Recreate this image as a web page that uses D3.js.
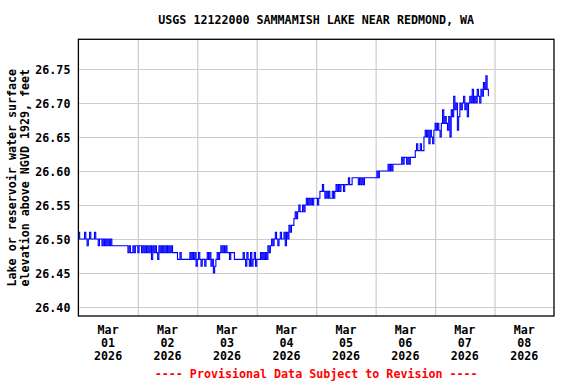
<!DOCTYPE html>
<html>
<head>
<meta charset="utf-8">
<script src="https://cdn.jsdelivr.net/npm/d3@7"></script>
<style>
  html, body { margin: 0; padding: 0; background: #ffffff; }
  svg text { font-family: "DejaVu Sans Mono", monospace; font-weight: bold; font-size: 11.66px; }
</style>
</head>
<body>
<svg id="chart" width="576" height="384"></svg>
<script>
// ---- DATA (30-minute readings, feet above NGVD 1929) ----
const title = "USGS 12122000 SAMMAMISH LAKE NEAR REDMOND, WA";
const yTitleLines = ["Lake or reservoir water surface", "elevation above NGVD 1929, feet"];
const footnote = "---- Provisional Data Subject to Revision ----";
const yTicks = [26.40, 26.45, 26.50, 26.55, 26.60, 26.65, 26.70, 26.75];
const xMonth = "Mar";
const xDays = ["01", "02", "03", "04", "05", "06", "07", "08"];
const xYear = "2026";

const mar01 = [26.51,26.50,26.50,26.50,26.50,26.51,26.50,26.49,26.50,26.51,
               26.50,26.50,26.50,26.51,26.50,26.50,26.49,26.50,26.50,26.49,
               26.50,26.49,26.50,26.49,26.50,26.49,26.50,26.49,26.49,26.49,
               26.49,26.49,26.49,26.49,26.49,26.49,26.49,26.49,26.49,26.49,
               26.48,26.49,26.48,26.48,26.49,26.48,26.49,26.49];
const mar02 = [26.48,26.49,26.49,26.48,26.49,26.48,26.49,26.48,26.49,26.48,
               26.49,26.47,26.49,26.48,26.49,26.48,26.47,26.49,26.48,26.49,
               26.48,26.49,26.48,26.49,26.48,26.49,26.48,26.49,26.48,26.48,
               26.48,26.48,26.47,26.47,26.48,26.47,26.47,26.47,26.47,26.47,
               26.47,26.47,26.48,26.47,26.48,26.47,26.48,26.46];
const mar03 = [26.47,26.48,26.47,26.46,26.47,26.47,26.46,26.47,26.48,26.47,
               26.48,26.46,26.47,26.45,26.46,26.47,26.48,26.47,26.48,26.49,
               26.48,26.49,26.48,26.49,26.48,26.48,26.47,26.48,26.48,26.48,
               26.47,26.47,26.47,26.47,26.47,26.47,26.47,26.48,26.47,26.46,
               26.48,26.47,26.46,26.48,26.46,26.47,26.48,26.46];
const mar04 = [26.47,26.47,26.47,26.48,26.47,26.48,26.47,26.48,26.47,26.49,
               26.48,26.49,26.50,26.49,26.50,26.51,26.50,26.49,26.50,26.51,
               26.50,26.50,26.51,26.49,26.51,26.50,26.52,26.51,26.52,26.52,
               26.53,26.54,26.53,26.54,26.55,26.54,26.54,26.55,26.54,26.55,
               26.56,26.55,26.56,26.55,26.56,26.55,26.56,26.56];
const mar05 = [26.56,26.55,26.56,26.57,26.57,26.58,26.57,26.56,26.57,26.56,
               26.57,26.56,26.56,26.57,26.56,26.57,26.58,26.57,26.58,26.57,
               26.58,26.58,26.57,26.58,26.58,26.58,26.59,26.58,26.58,26.59,
               26.59,26.59,26.59,26.59,26.58,26.59,26.58,26.59,26.58,26.59,
               26.59,26.59,26.59,26.59,26.59,26.59,26.59,26.59];
const mar06 = [26.59,26.60,26.59,26.60,26.60,26.60,26.60,26.60,26.60,26.60,
               26.61,26.60,26.61,26.60,26.61,26.61,26.61,26.61,26.61,26.61,
               26.61,26.62,26.61,26.62,26.62,26.61,26.62,26.61,26.62,26.62,
               26.62,26.62,26.63,26.64,26.63,26.63,26.64,26.63,26.63,26.65,
               26.66,26.65,26.66,26.64,26.66,26.65,26.64,26.66];
const mar07 = [26.67,26.66,26.67,26.66,26.65,26.67,26.69,26.67,26.68,26.67,
               26.66,26.68,26.65,26.69,26.68,26.71,26.69,26.70,26.66,26.68,
               26.70,26.69,26.70,26.71,26.69,26.70,26.68,26.70,26.71,26.70,
               26.72,26.70,26.71,26.70,26.72,26.71,26.70,26.72,26.71,26.73,
               26.72,26.74,26.72,26.71];
const days = [mar01, mar02, mar03, mar04, mar05, mar06, mar07];

// ---- BUILD SERIES ----
const series = [];
days.forEach((arr, d) => {
  arr.forEach((v, i) => {
    series.push({ t: new Date(Date.UTC(2026, 2, 1 + d, 0, 30 * i)), v: v });
  });
});

// ---- LAYOUT ----
const svg = d3.select("#chart");
const L = 78.4, R = 554, T = 39.3, B = 316;

const x = d3.scaleUtc()
  .domain([new Date(Date.UTC(2026, 2, 1)), new Date(Date.UTC(2026, 2, 9))])
  .range([L, R]);
const y = d3.scaleLinear()
  .domain([26.3868, 26.7937])
  .range([B, T]);

// grid
const dayBounds = d3.range(1, 8).map(k => new Date(Date.UTC(2026, 2, 1 + k)));
svg.append("g")
  .attr("transform", `translate(0,${B})`)
  .call(d3.axisBottom(x).tickValues(dayBounds).tickSize(-(B - T)).tickFormat(""))
  .call(g => g.select(".domain").remove())
  .call(g => g.selectAll("line").attr("stroke", "#cccccc").attr("stroke-width", 1.2));

svg.append("g")
  .attr("transform", `translate(${L},0)`)
  .call(d3.axisLeft(y).tickValues(yTicks).tickSize(-(R - L)).tickFormat(""))
  .call(g => g.select(".domain").remove())
  .call(g => g.selectAll("line").attr("stroke", "#cccccc").attr("stroke-width", 1.2));

// data line
const line = d3.line()
  .x(d => x(d.t))
  .y(d => y(d.v))
  .curve(d3.curveStepAfter);
svg.append("path")
  .datum(series)
  .attr("fill", "none")
  .attr("stroke", "#0000ff")
  .attr("stroke-width", 1.1)
  .attr("d", line);

// frame
svg.append("rect")
  .attr("x", L).attr("y", T)
  .attr("width", R - L).attr("height", B - T)
  .attr("fill", "none").attr("stroke", "#000").attr("stroke-width", 1.3);

// y tick labels
svg.append("g")
  .attr("transform", `translate(${L},0)`)
  .call(d3.axisLeft(y).tickValues(yTicks).tickSize(0).tickPadding(8).tickFormat(d3.format(".2f")))
  .call(g => g.select(".domain").remove())
  .call(g => g.selectAll("text")
      .attr("dy", "0.42em")
      .attr("fill", "#000")
      .style("font-family", "'DejaVu Sans Mono', monospace")
      .style("font-weight", "bold")
      .style("font-size", "11.66px"));

// x tick labels (centered at noon)
const noons = xDays.map((d, k) => new Date(Date.UTC(2026, 2, 1 + k, 12)));
const xl = svg.append("g");
noons.forEach((t, k) => {
  const tx = xl.append("text").attr("text-anchor", "middle").attr("fill", "#000");
  tx.append("tspan").attr("x", x(t)).attr("y", 334).text(xMonth);
  tx.append("tspan").attr("x", x(t)).attr("y", 347).text(xDays[k]);
  tx.append("tspan").attr("x", x(t)).attr("y", 360).text(xYear);
});

// title
svg.append("text")
  .attr("x", (L + R) / 2).attr("y", 24)
  .attr("text-anchor", "middle").attr("fill", "#000")
  .text(title);

// y axis title
const cy = (T + B) / 2;
yTitleLines.forEach((s, i) => {
  svg.append("text")
    .attr("transform", `translate(${16 + i * 12.5},${cy}) rotate(-90)`)
    .attr("text-anchor", "middle").attr("fill", "#000")
    .text(s);
});

// footnote
svg.append("text")
  .attr("x", (L + R) / 2).attr("y", 377.5)
  .attr("text-anchor", "middle").attr("fill", "#ff0000")
  .text(footnote);
</script>
</body>
</html>
